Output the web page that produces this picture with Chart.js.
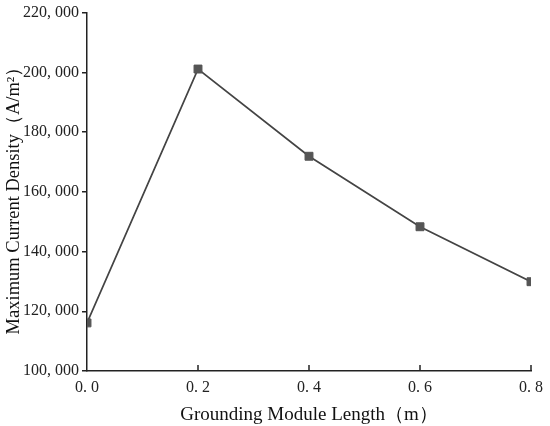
<!DOCTYPE html>
<html>
<head>
<meta charset="utf-8">
<script src="https://cdn.jsdelivr.net/npm/chart.js@4.4.1/dist/chart.umd.min.js"></script>
<style>
  body { margin: 0; background: #fff; }
  canvas { display: block; }
</style>
</head>
<body>
<canvas id="myChart" width="550" height="426"></canvas>
<script>
let lengths = [0.0, 0.2, 0.4, 0.6, 0.8];
let densities = [116100, 201100, 171900, 148300, 129900];
let xTicks = [0.0, 0.2, 0.4, 0.6, 0.8];
let yTicks = [100000, 120000, 140000, 160000, 180000, 200000, 220000];

let serif = '"Liberation Serif", "Times New Roman", serif';

// x ticks point inward; the y title is drawn by hand
let axisExtras = {
	id: 'axisExtras',
	afterDraw(chart) {
		let ctx = chart.ctx;
		let x = chart.scales.x;
		let bottom = chart.chartArea.bottom;
		ctx.save();
		ctx.strokeStyle = '#222';
		ctx.lineWidth = 1.5;
		xTicks.forEach(v => {
			if (v === 0) return;
			let px = x.getPixelForValue(v);
			ctx.beginPath();
			ctx.moveTo(px, bottom);
			ctx.lineTo(px, bottom - 6);
			ctx.stroke();
		});
		ctx.translate(14, 196);
		ctx.rotate(-Math.PI / 2);
		ctx.fillStyle = '#111';
		ctx.font = '18.5px ' + serif;
		ctx.textAlign = 'center';
		ctx.textBaseline = 'middle';
		ctx.fillText('Maximum Current Density（A/m²）', 0, 0);
		ctx.restore();
	}
};

let myChart = document.getElementById('myChart').getContext('2d');

let chart = new Chart(myChart, {
	type: 'line',
	data: {
		datasets: [{
			data: lengths.map((v, i) => ({ x: v, y: densities[i] })),
			borderColor: '#444',
			borderWidth: 1.7,
			pointStyle: 'rect',
			pointRadius: 5.6,
			pointBackgroundColor: '#555',
			pointBorderColor: '#555',
			pointBorderWidth: 1,
			tension: 0
		}]
	},
	options: {
		responsive: false,
		animation: false,
		layout: { padding: { top: 11, right: 19, left: 0, bottom: 0 } },
		plugins: {
			legend: { display: false },
			tooltip: { enabled: false }
		},
		scales: {
			x: {
				type: 'linear',
				min: 0,
				max: 0.8,
				afterFit: s => { s.height = 55; },
				afterBuildTicks: s => { s.ticks = xTicks.map(v => ({ value: v })); },
				grid: { display: true, drawOnChartArea: false, drawTicks: false },
				border: { color: '#222', width: 1.5 },
				ticks: {
					padding: 7,
					color: '#222',
					font: { family: serif, size: 16 },
					callback: v => v.toFixed(1).replace('.', '. ')
				},
				title: {
					display: true,
					text: 'Grounding Module Length（m）',
					color: '#111',
					font: { family: serif, size: 19 },
					padding: { top: 1, bottom: 0 }
				}
			},
			y: {
				min: 100000,
				max: 220000,
				afterFit: s => { s.width = 87; },
				afterBuildTicks: s => { s.ticks = yTicks.map(v => ({ value: v })); },
				grid: { display: true, drawOnChartArea: false, tickLength: 5, color: '#222', lineWidth: 1.5 },
				border: { color: '#222', width: 1.5 },
				ticks: {
					padding: 3,
					color: '#222',
					font: { family: serif, size: 16 },
					callback: v => v.toLocaleString('en-US').replace(',', ', ')
				}
			}
		}
	},
	plugins: [axisExtras]
});
</script>
</body>
</html>
